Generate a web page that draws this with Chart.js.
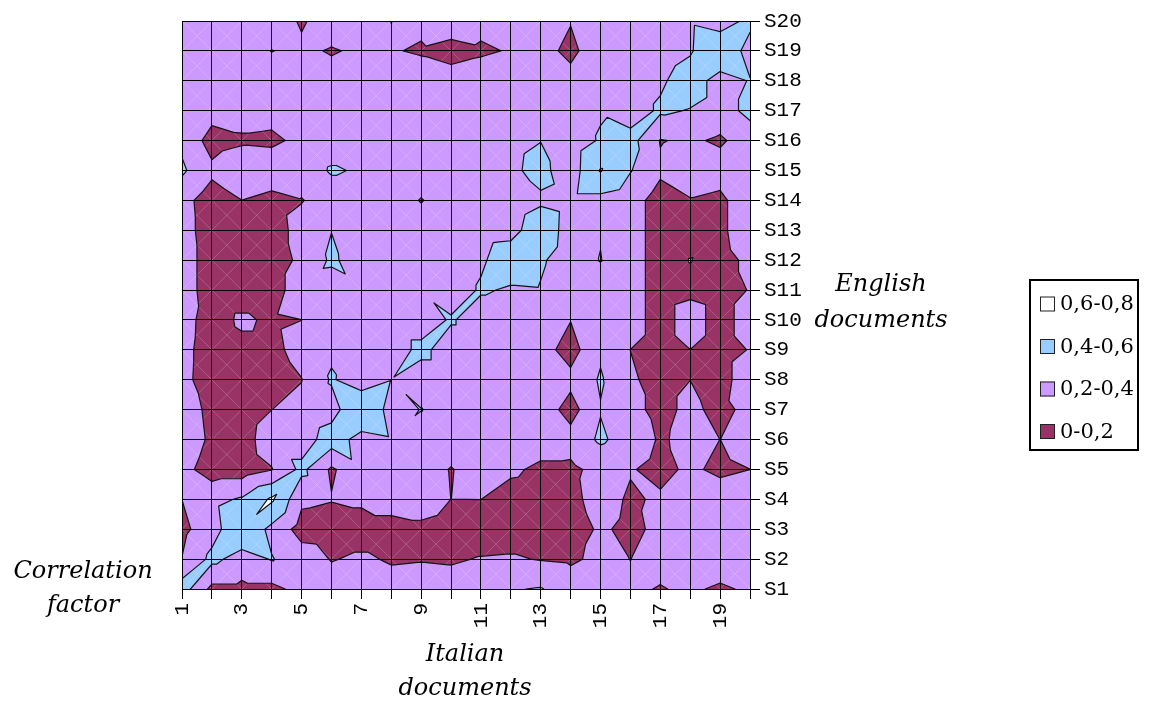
<!DOCTYPE html>
<html>
<head>
<meta charset="utf-8">
<title>Correlation factor</title>
<script src="https://cdn.jsdelivr.net/npm/chart.js@4.4.1/dist/chart.umd.min.js"></script>
<style>
  html, body { margin: 0; padding: 0; background: #ffffff; }
  canvas { display: block; }
</style>
</head>
<body>
<canvas id="chart" width="1168" height="702"></canvas>
<script>
// Italian documents along x, English documents (S1..S20) along y
const italianDocs = [1, 2, 3, 4, 5, 6, 7, 8, 9, 10, 11, 12, 13, 14, 15, 16, 17, 18, 19, 20];
const xTickLabels = ['1', '', '3', '', '5', '', '7', '', '9', '', '11', '', '13', '', '15', '', '17', '', '19', ''];
const englishDocs = ['S1', 'S2', 'S3', 'S4', 'S5', 'S6', 'S7', 'S8', 'S9', 'S10',
                     'S11', 'S12', 'S13', 'S14', 'S15', 'S16', 'S17', 'S18', 'S19', 'S20'];

// correlation factor per English document, one value per Italian document 1..20
const rowS1  = [0.5, 0.15, 0.15, 0.15, 0.26, 0.29, 0.3, 0.28, 0.29, 0.28, 0.3, 0.39, 0.41, 0.306, 0.3, 0.23, 0.19, 0.23, 0.17, 0.23];
const rowS2  = [0.205, 0.45, 0.32, 0.41, 0.3, 0.19, 0.23, 0.18, 0.19, 0.18, 0.21, 0.22, 0.19, 0.17, 0.245, 0.198, 0.257, 0.3, 0.32, 0.3];
const rowS3  = [0.15, 0.32, 0.57, 0.35, 0.12, 0.1, 0.1, 0.1, 0.15, 0.1, 0.1, 0.1, 0.1, 0.1, 0.23, 0.15, 0.25, 0.3, 0.3, 0.3];
const rowS4  = [0.201, 0.35, 0.42, 0.63, 0.24, 0.21, 0.24, 0.32, 0.317, 0.199, 0.201, 0.12, 0.1, 0.14, 0.29, 0.17, 0.23, 0.3, 0.33, 0.3];
const rowS5  = [0.27, 0.1, 0.1, 0.19, 0.45, 0.17, 0.35, 0.3, 0.29, 0.19, 0.29, 0.234, 0.16, 0.16, 0.26, 0.215, 0.14, 0.24, 0.15, 0.199];
const rowS6  = [0.34, 0.16, 0.12, 0.3, 0.3, 0.5, 0.33, 0.38, 0.3, 0.3, 0.3, 0.3, 0.3, 0.28, 0.43, 0.31, 0.18, 0.247, 0.199, 0.3];
const rowS7  = [0.32, 0.14, 0.1, 0.199, 0.25, 0.32, 0.59, 0.33, 0.405, 0.3, 0.3, 0.3, 0.32, 0.12, 0.39, 0.25, 0.15, 0.24, 0.15, 0.25];
const rowS8  = [0.256, 0.1, 0.1, 0.1, 0.195, 0.42, 0.29, 0.395, 0.3, 0.3, 0.3, 0.3, 0.3, 0.255, 0.42, 0.22, 0.15, 0.199, 0.12, 0.32];
const rowS9  = [0.264, 0.1, 0.15, 0.15, 0.267, 0.37, 0.3, 0.3, 0.45, 0.3, 0.3, 0.3, 0.28, 0.12, 0.37, 0.199, 0.12, 0.199, 0.12, 0.21];
const rowS10 = [0.27, 0.12, 0.23, 0.17, 0.199, 0.3, 0.3, 0.3, 0.3, 0.42, 0.3, 0.3, 0.3, 0.205, 0.3, 0.28, 0.12, 0.285, 0.12, 0.29];
const rowS11 = [0.3, 0.1, 0.1, 0.1, 0.322, 0.3, 0.365, 0.3, 0.385, 0.3, 0.42, 0.38, 0.39, 0.3, 0.3, 0.28, 0.12, 0.16, 0.12, 0.21];
const rowS12 = [0.3, 0.1, 0.1, 0.1, 0.243, 0.43, 0.31, 0.3, 0.3, 0.3, 0.375, 0.5, 0.42, 0.32, 0.405, 0.28, 0.12, 0.205, 0.12, 0.25];
const rowS13 = [0.28, 0.1, 0.1, 0.1, 0.28, 0.397, 0.3, 0.3, 0.3, 0.3, 0.33, 0.346, 0.5, 0.333, 0.39, 0.28, 0.12, 0.12, 0.15, 0.35];
const rowS14 = [0.267, 0.1, 0.199, 0.12, 0.19, 0.29, 0.3, 0.3, 0.19, 0.3, 0.3, 0.31, 0.375, 0.34, 0.34, 0.28, 0.12, 0.19, 0.15, 0.35];
const rowS15 = [0.43, 0.245, 0.35, 0.37, 0.29, 0.42, 0.38, 0.198, 0.3, 0.3, 0.3, 0.37, 0.45, 0.3, 0.61, 0.41, 0.234, 0.3, 0.3, 0.3];
const rowS16 = [0.36, 0.12, 0.17, 0.15, 0.26, 0.3, 0.3, 0.3, 0.3, 0.3, 0.3, 0.36, 0.397, 0.29, 0.42, 0.47, 0.19, 0.23, 0.17, 0.3];
const rowS17 = [0.3, 0.28, 0.29, 0.29, 0.3, 0.3, 0.3, 0.3, 0.3, 0.3, 0.3, 0.3, 0.3, 0.3, 0.38, 0.3, 0.43, 0.39, 0.32, 0.45];
const rowS18 = [0.3, 0.3, 0.3, 0.3, 0.3, 0.3, 0.3, 0.3, 0.35, 0.32, 0.36, 0.3, 0.3, 0.27, 0.3, 0.3, 0.37, 0.5, 0.32, 0.41];
const rowS19 = [0.3, 0.3, 0.3, 0.195, 0.25, 0.18, 0.24, 0.22, 0.17, 0.1, 0.16, 0.22, 0.27, 0.15, 0.33, 0.3, 0.3, 0.38, 0.58, 0.32];
const rowS20 = [0.3, 0.3, 0.3, 0.35, 0.17, 0.33, 0.3, 0.198, 0.26, 0.36, 0.28, 0.3, 0.3, 0.21, 0.3, 0.3, 0.3, 0.37, 0.3, 0.45];

const correlation = [rowS1, rowS2, rowS3, rowS4, rowS5, rowS6, rowS7, rowS8, rowS9, rowS10,
                     rowS11, rowS12, rowS13, rowS14, rowS15, rowS16, rowS17, rowS18, rowS19, rowS20];

// band edges and their fills, lowest band first
const bandEdges  = [0.2, 0.4, 0.6];
const bandColors = ['#993366', '#CC99FF', '#99CCFF', '#FFFFFF'];
const bandLabels = ['0-0,2', '0,2-0,4', '0,4-0,6', '0,6-0,8'];

// Every grid cell is split into four triangles around its centre; the centre
// takes the stronger of the two diagonal means.
function buildTriangles() {
  const tris = [];
  const nx = italianDocs.length, ny = englishDocs.length;
  for (let j = 0; j < ny - 1; j++) {
    for (let i = 0; i < nx - 1; i++) {
      const p00 = { x: italianDocs[i],     y: j + 1, v: correlation[j][i] };
      const p10 = { x: italianDocs[i + 1], y: j + 1, v: correlation[j][i + 1] };
      const p11 = { x: italianDocs[i + 1], y: j + 2, v: correlation[j + 1][i + 1] };
      const p01 = { x: italianDocs[i],     y: j + 2, v: correlation[j + 1][i] };
      const cv = Math.max((p00.v + p11.v) / 2, (p10.v + p01.v) / 2);
      const c = { x: (p00.x + p10.x) / 2, y: j + 1.5, v: cv };
      tris.push([p00, p10, c], [p10, p11, c], [p11, p01, c], [p01, p00, c]);
    }
  }
  return tris;
}

function clipAbove(poly, t) {
  const out = [];
  for (let k = 0; k < poly.length; k++) {
    const a = poly[k], b = poly[(k + 1) % poly.length];
    const ain = a.v >= t, bin = b.v >= t;
    if (ain) out.push(a);
    if (ain !== bin) {
      const f = (t - a.v) / (b.v - a.v);
      out.push({ x: a.x + f * (b.x - a.x), y: a.y + f * (b.y - a.y), v: t });
    }
  }
  return out;
}

function isoSegment(tri, t) {
  const pts = [];
  for (let k = 0; k < 3; k++) {
    const a = tri[k], b = tri[(k + 1) % 3];
    if ((a.v >= t) !== (b.v >= t)) {
      const f = (t - a.v) / (b.v - a.v);
      pts.push({ x: a.x + f * (b.x - a.x), y: a.y + f * (b.y - a.y) });
    }
  }
  return pts.length === 2 ? pts : null;
}

const contourBands = {
  id: 'contourBands',
  beforeDraw(chart) {
    const { ctx, chartArea: area, scales: { x, y } } = chart;
    const px = p => x.getPixelForValue(p.x);
    const py = p => y.getPixelForValue(p.y);
    const tris = buildTriangles();

    ctx.save();
    ctx.beginPath();
    ctx.rect(area.left, area.top, area.right - area.left, area.bottom - area.top);
    ctx.clip();

    // lowest band covers the whole surface
    ctx.fillStyle = bandColors[0];
    ctx.fillRect(x.getPixelForValue(1), y.getPixelForValue(20),
                 x.getPixelForValue(20) - x.getPixelForValue(1),
                 y.getPixelForValue(1) - y.getPixelForValue(20));

    bandEdges.forEach((t, k) => {
      ctx.beginPath();
      for (const tri of tris) {
        const poly = clipAbove(tri, t);
        if (poly.length < 3) continue;
        ctx.moveTo(px(poly[0]), py(poly[0]));
        for (let m = 1; m < poly.length; m++) ctx.lineTo(px(poly[m]), py(poly[m]));
        ctx.closePath();
      }
      ctx.fillStyle = bandColors[k + 1];
      ctx.fill('nonzero');
    });

    // faint triangle seams
    ctx.beginPath();
    for (let j = 1; j < englishDocs.length; j++) {
      for (let i = 1; i < italianDocs.length; i++) {
        ctx.moveTo(x.getPixelForValue(i), y.getPixelForValue(j));
        ctx.lineTo(x.getPixelForValue(i + 1), y.getPixelForValue(j + 1));
        ctx.moveTo(x.getPixelForValue(i + 1), y.getPixelForValue(j));
        ctx.lineTo(x.getPixelForValue(i), y.getPixelForValue(j + 1));
      }
    }
    ctx.strokeStyle = 'rgba(255,255,255,0.2)';
    ctx.lineWidth = 1;
    ctx.stroke();

    // band outlines
    ctx.beginPath();
    for (const t of bandEdges) {
      for (const tri of tris) {
        const seg = isoSegment(tri, t);
        if (!seg) continue;
        ctx.moveTo(px(seg[0]), py(seg[0]));
        ctx.lineTo(px(seg[1]), py(seg[1]));
      }
    }
    ctx.strokeStyle = '#141414';
    ctx.lineWidth = 1.2;
    ctx.lineCap = 'round';
    ctx.stroke();
    ctx.restore();
  }
};

const titlesAndKey = {
  id: 'titlesAndKey',
  afterDraw(chart) {
    const ctx = chart.ctx;
    ctx.save();
    ctx.fillStyle = '#000';
    ctx.textAlign = 'center';
    ctx.textBaseline = 'middle';
    ctx.font = 'italic 24px "DejaVu Serif", serif';
    ctx.fillText('Correlation', 83, 572);
    ctx.fillText('factor', 83, 606);
    ctx.fillText('English', 881, 285);
    ctx.fillText('documents', 881, 321);
    ctx.fillText('Italian', 465, 655);
    ctx.fillText('documents', 465, 689);

    // key box
    ctx.lineWidth = 2;
    ctx.strokeStyle = '#000';
    ctx.strokeRect(1030, 280, 108, 170);
    ctx.font = '21px "DejaVu Serif", serif';
    ctx.textAlign = 'left';
    const rowsTop = 304, rowStep = 42.5;
    for (let r = 0; r < bandLabels.length; r++) {
      const k = bandLabels.length - 1 - r;
      const cy = rowsTop + r * rowStep;
      ctx.fillStyle = bandColors[k];
      ctx.fillRect(1040, cy - 7.5, 15, 15);
      ctx.lineWidth = 1;
      ctx.strokeStyle = '#222';
      ctx.strokeRect(1040.5, cy - 7, 14, 14);
      ctx.fillStyle = '#000';
      ctx.fillText(bandLabels[k], 1060, cy + 1);
    }
    ctx.restore();
  }
};

const tickFont = { family: '"Liberation Mono", monospace', size: 21 };

new Chart(document.getElementById('chart'), {
  type: 'scatter',
  data: { datasets: [] },
  options: {
    responsive: false,
    animation: false,
    devicePixelRatio: 1,
    layout: { padding: { left: 182, top: 21, right: 348, bottom: 63 } },
    plugins: { legend: { display: false }, tooltip: { enabled: false } },
    scales: {
      x: {
        type: 'linear', position: 'bottom', min: 1, max: 20,
        afterFit: s => { s.height = 50; },
        ticks: {
          stepSize: 1, autoSkip: false, minRotation: 90, maxRotation: 90, padding: 4,
          color: '#000', font: tickFont,
          callback: v => xTickLabels[v - 1] ?? ''
        },
        grid: { color: '#000', lineWidth: 1, tickLength: 10, drawTicks: true },
        border: { color: '#000', width: 1 }
      },
      y: {
        type: 'linear', position: 'right', min: 1, max: 20,
        afterFit: s => { s.width = 70; },
        ticks: {
          stepSize: 1, autoSkip: false, padding: 4,
          color: '#000', font: tickFont,
          callback: v => englishDocs[v - 1] ?? ''
        },
        grid: { color: '#000', lineWidth: 1, tickLength: 10, drawTicks: true },
        border: { color: '#000', width: 1 }
      }
    }
  },
  plugins: [contourBands, titlesAndKey]
});
</script>
</body>
</html>
